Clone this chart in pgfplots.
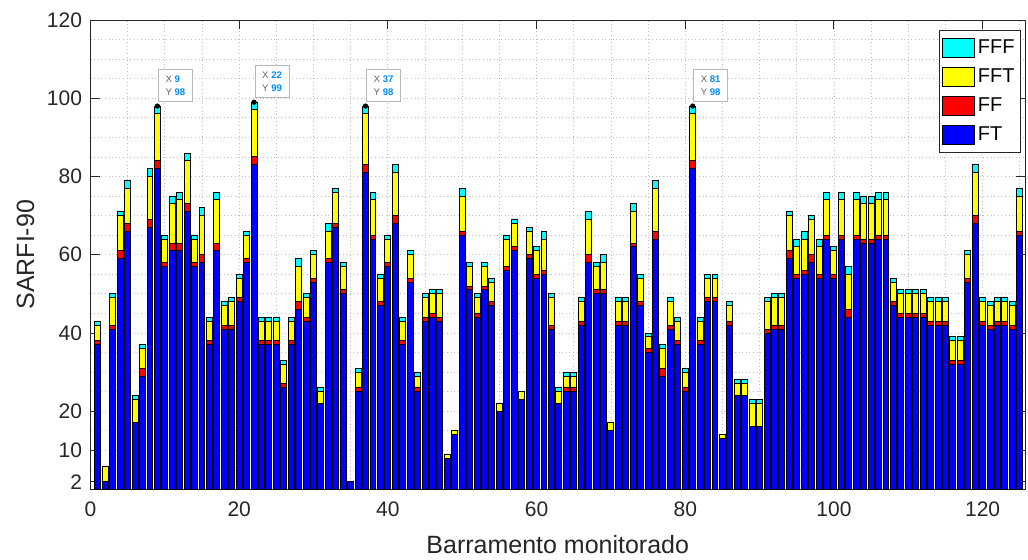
\documentclass[border=0pt]{standalone}
\usepackage{pgfplots}
\pgfplotsset{compat=1.18}
\usepackage{pgfplotstable}
\usepackage{fontspec}
\setmainfont{Liberation Sans}
\definecolor{axcol}{gray}{0.15}
\definecolor{tipblue}{RGB}{0,140,255}
\definecolor{cFT}{RGB}{0,0,255}
\definecolor{cFF}{RGB}{255,0,0}
\definecolor{cFFT}{RGB}{255,255,0}
\definecolor{cFFF}{RGB}{0,255,255}
\pgfplotstableread{
n FT FF FFT FFF
1 37 1 4 1
2 2 0 4 0
3 41 1 7 1
4 59 2 9 1
5 66 2 9 2
6 17 0 6 1
7 29 2 5 1
8 67 2 11 2
9 82 2 12 2
10 57 1 6 1
11 61 2 10 2
12 61 2 11 2
13 71 2 11 2
14 57 1 6 1
15 58 2 10 2
16 37 1 5 1
17 61 2 11 2
18 41 1 5 1
19 41 1 6 1
20 48 1 5 1
21 58 1 6 1
22 83 2 12 2
23 37 1 5 1
24 37 1 5 1
25 37 1 5 1
26 26 1 5 1
27 37 1 5 1
28 46 2 9 2
29 43 1 5 1
30 53 1 6 1
31 22 0 3 1
32 58 1 7 2
33 67 1 8 1
34 50 1 6 1
35 2 0 0 0
36 25 1 4 1
37 81 2 13 2
38 64 1 9 2
39 47 1 6 1
40 57 1 6 1
41 68 2 11 2
42 37 1 5 1
43 53 1 6 1
44 25 1 3 1
45 43 1 5 1
46 44 1 5 1
47 43 1 6 1
48 8 0 1 0
49 14 0 1 0
50 65 1 9 2
51 51 1 5 1
52 44 1 4 1
53 51 1 5 1
54 47 1 5 1
55 20 0 2 0
56 56 1 7 1
57 61 1 6 1
58 23 0 2 0
59 59 1 6 1
60 54 1 6 1
61 55 1 8 2
62 41 1 7 1
63 22 0 3 1
64 25 1 3 1
65 25 1 3 1
66 42 1 5 1
67 58 2 9 2
68 50 1 6 1
69 50 1 7 2
70 15 0 2 0
71 42 1 5 1
72 42 1 5 1
73 62 1 8 2
74 47 1 6 1
75 35 1 3 1
76 64 2 11 2
77 29 2 5 1
78 41 1 6 1
79 37 1 5 1
80 25 1 4 1
81 82 2 12 2
82 37 1 5 1
83 48 1 5 1
84 48 1 5 1
85 13 0 1 0
86 42 1 4 1
87 24 0 3 1
88 24 0 3 1
89 16 0 6 1
90 16 0 6 1
91 40 1 7 1
92 41 1 7 1
93 41 1 7 1
94 59 2 9 1
95 54 1 7 2
96 55 1 8 2
97 58 2 9 1
98 54 1 7 2
99 64 1 9 2
100 54 1 6 1
101 64 1 9 2
102 44 2 9 2
103 64 1 9 2
104 63 1 9 2
105 63 1 9 2
106 64 1 9 2
107 64 1 9 2
108 47 1 5 1
109 44 1 5 1
110 44 1 5 1
111 44 1 5 1
112 44 1 5 1
113 42 1 5 1
114 42 1 5 1
115 42 1 5 1
116 32 1 5 1
117 32 1 5 1
118 53 1 6 1
119 68 2 11 2
120 42 1 5 1
121 41 1 5 1
122 42 1 5 1
123 42 1 5 1
124 41 1 5 1
125 65 1 9 2
}\datatable
\pgfplotsset{
  mybar/.style={fill=#1, draw=black, line width=0.5pt,
    legend image code/.code={\draw[fill=#1, draw=black, line width=0.5pt] (0pt,-4.75pt) rectangle (16pt,4.75pt);}},
  common/.style={at={(0,0)}, anchor=south west, scale only axis,
    width=467.25pt, height=234.75pt, xmin=0, xmax=125.7, ymin=0, ymax=120}
}
\tikzset{
  tip/.style={draw=black!28, fill=white, anchor=south west, xshift=0.3pt, yshift=2pt,
    font=\fontsize{4.8}{6.2}\selectfont, align=left, inner xsep=3pt, inner ysep=3.2pt,
    text=black!62, minimum width=17pt}
}
\begin{document}
\begin{tikzpicture}[x=1pt,y=1pt]
\useasboundingbox (-45.25,-34.75) rectangle (468.75,244.75);
\begin{axis}[
  common,
  ybar stacked, bar width=0.8,
  xtick={0,20,...,120}, ytick={2,10,20,40,60,80,100,120},
  minor xtick={5,10,...,125},
  minor ytick={5,15,25,30,35,45,50,55,65,70,75,85,90,95,105,110,115},
  grid=both,
  major grid style={dash pattern=on 0.5pt off 1.3pt, line width=0.4pt, black!25},
  minor grid style={dash pattern=on 0.5pt off 1.3pt, line width=0.4pt, black!25},
  major tick length=4.5pt, minor tick length=0pt,
  tick style={axcol, line width=0.5pt},
  axis line style={axcol, line width=0.5pt},
  tick label style={font=\fontsize{10.5}{12}\selectfont, text=axcol},
  xticklabel style={yshift=-2.8pt},
  yticklabel style={xshift=-0.7pt},
  /pgf/number format/assume math mode=true,
  xlabel={Barramento monitorado}, ylabel={SARFI-90},
  label style={font=\fontsize{12.5}{14}\selectfont, text=axcol},
  xlabel style={at={(axis description cs:0.5,-0.118)}, anchor=center},
  ylabel style={at={(axis description cs:-0.0696,0.5)}, anchor=center},
  legend style={at={(rel axis cs:0.9957,0.9787)}, anchor=north east, draw=axcol,
    fill=white, font=\fontsize{10}{12}\selectfont, text=black,
    inner xsep=1.5pt, inner ysep=1.5pt, row sep=0pt,
    nodes={inner xsep=1.5pt, inner ysep=0pt, minimum height=14.5pt}},
  legend cell align=left,
  reverse legend,
]
\addplot[mybar=cFT] table[x=n, y=FT] \datatable;
\addlegendentry{FT}
\addplot[mybar=cFF] table[x=n, y=FF] \datatable;
\addlegendentry{FF}
\addplot[mybar=cFFT] table[x=n, y=FFT] \datatable;
\addlegendentry{FFT}
\addplot[mybar=cFFF] table[x=n, y=FFF] \datatable;
\addlegendentry{FFF}
\end{axis}
\begin{axis}[common, hide axis]
\addplot[only marks, mark=*, mark size=1.1pt, black] coordinates {(9,98) (22,99) (37,98) (81,98)};
\node[tip] at (axis cs:9,98) {X \textcolor{tipblue}{\textbf{9}}\\Y \textcolor{tipblue}{\textbf{98}}};
\node[tip] at (axis cs:22,99) {X \textcolor{tipblue}{\textbf{22}}\\Y \textcolor{tipblue}{\textbf{99}}};
\node[tip] at (axis cs:37,98) {X \textcolor{tipblue}{\textbf{37}}\\Y \textcolor{tipblue}{\textbf{98}}};
\node[tip] at (axis cs:81,98) {X \textcolor{tipblue}{\textbf{81}}\\Y \textcolor{tipblue}{\textbf{98}}};
\end{axis}
\end{tikzpicture}
\end{document}
